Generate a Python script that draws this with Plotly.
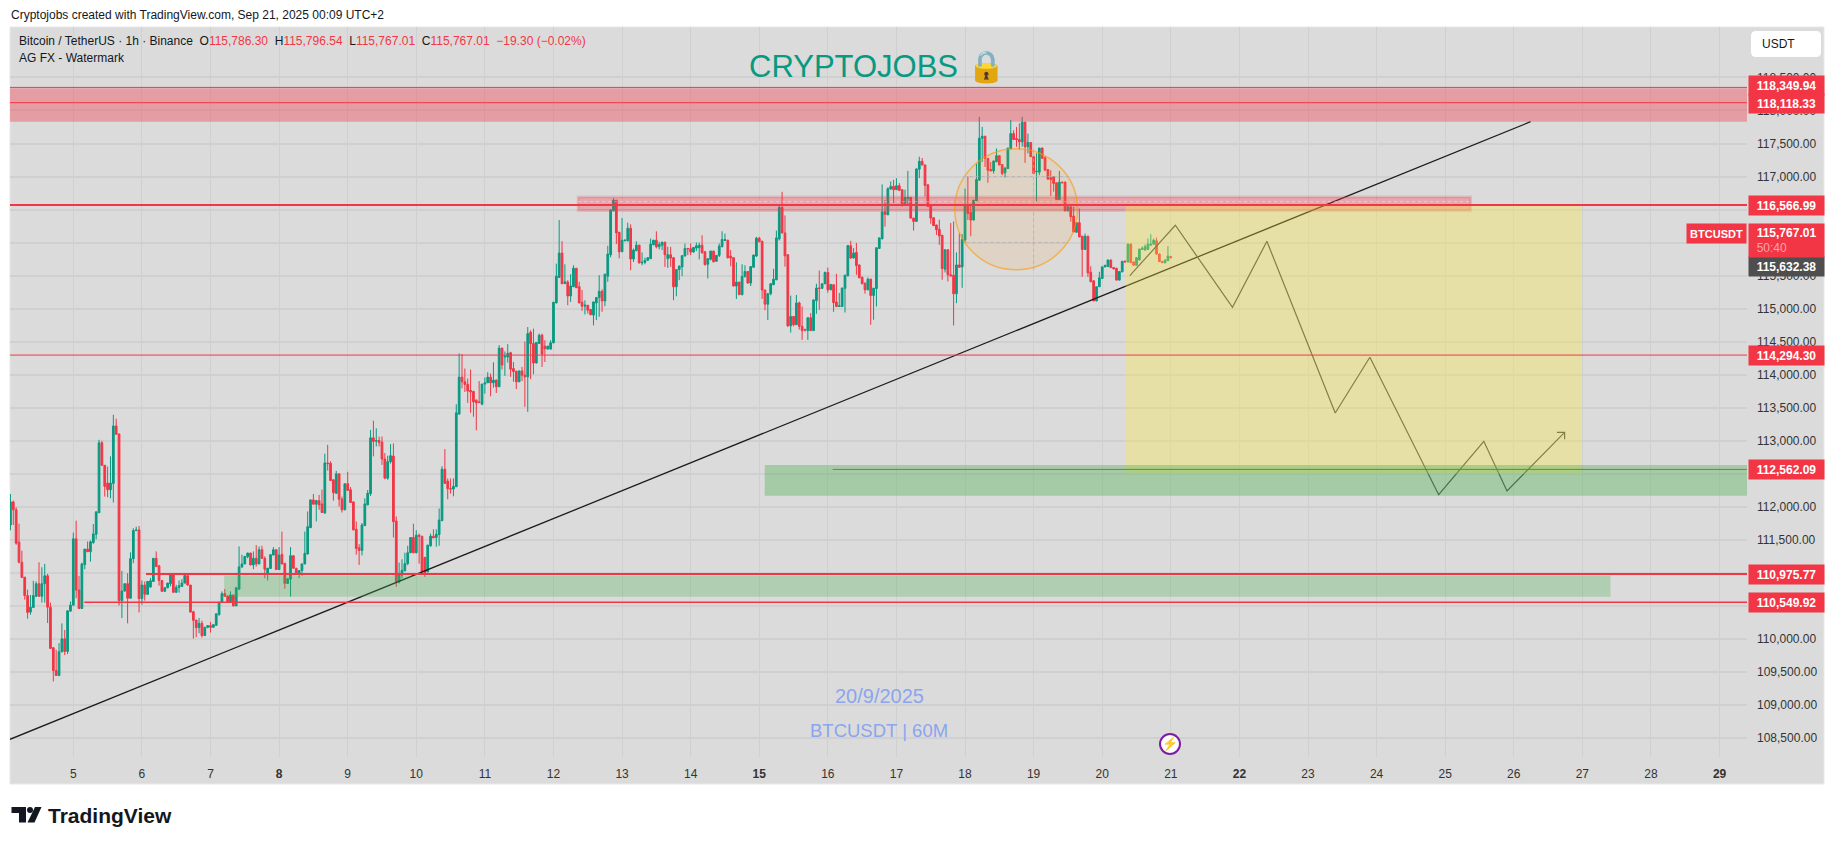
import plotly.graph_objects as go

# hourly BTCUSDT bars, oldest first, last one is Sep 21 00:00
opens = [
    111720,112070,111950,111460,111155,110930,110650,110400,110470,110640,
    110830,110640,110830,110950,110475,109860,109515,109440,109800,109995,
    109805,110415,110505,111510,110735,110455,111120,111355,111315,111455,
    111580,111905,112965,112625,112355,112255,112350,113220,113100,110575,
    110720,110830,110610,111210,111635,111645,110605,110810,110670,110780,
    110865,111215,111100,110880,110715,110770,110830,110965,110700,110775,
    110790,110840,110950,110810,110405,110280,110165,110230,110045,110170,
    110195,110170,110200,110360,110545,110680,110645,110555,110660,110495,
    110750,111085,111130,111240,111295,111115,111215,111130,111345,111215,
    110970,111060,111265,111345,111045,111275,111140,110835,110900,111255,
    111065,110990,111030,111130,111280,111680,112100,112035,112090,112040,
    111900,112660,112655,112405,112200,112495,112110,111950,112345,112255,
    112070,111655,111375,111335,111710,112025,112195,113040,112990,113000,
    112975,112720,112430,112680,112765,111780,110860,110960,111025,111135,
    111300,111530,111300,111565,111550,111230,111010,111405,111550,111530,
    111575,111785,112565,112385,112270,112265,112300,113400,113960,113890,
    113850,113760,113745,113610,113585,113550,113855,113875,113960,113875,
    113915,113815,114400,114265,114265,114330,114090,114050,113890,114055,
    113990,113965,114640,114470,114175,114470,114595,114430,114385,114385,
    114480,115085,115470,115840,115378,115400,115190,115330,115610,115330,
    115095,115035,115050,114985,114900,115085,115165,115260,115115,115490,
    115815,116480,116640,116155,115860,116025,116025,116215,115750,115875,
    115960,115690,115700,115730,115755,115965,116035,115935,115960,116005,
    115755,115815,115770,115330,115590,115630,115795,115910,115905,115855,
    115915,115920,115960,115860,115670,115745,115870,115715,115805,115935,
    116030,116035,115795,115770,115340,115400,115210,115480,115560,115385,
    115625,115795,116065,116020,115280,115065,115225,115360,115435,116055,
    116530,116145,115815,114738,114880,114755,115085,114730,114685,114665,
    114860,114665,115120,115310,115305,115375,115545,115283,115360,115100,
    115030,115030,115305,115495,115950,115765,115850,115660,115475,115385,
    115283,115445,115197,115303,115910,116055,116465,116420,116810,116850,
    116800,116860,116800,116560,116665,116685,116370,116320,117110,117230,
    117175,116875,116560,116375,116265,116200,116110,115595,115890,115510,
    115505,115223,115660,115630,116040,116575,116455,116340,116630,116945,
    117580,117610,117275,117105,117085,117222,117315,117180,117055,117120,
    117420,117650,117575,117560,117525,117822,117450,117515,117300,117071,
    117066,117430,117285,117105,116980,116995,116905,116650,116915,116915,
    116480,116540,116400,116155,116300,116095,115895,116095,115550,115420,
    115115,115330,115455,115630,115635,115735,115620,115610,115430,115555,
    115720,115705,115975,115705,115655,115735,115895,115885,115895,115960,
    115975,116025,115825,115710,115695,115725,115786.30,
]
highs = [
    112190,112090,111990,111740,111330,110930,110740,110660,110875,110865,
    111155,111080,111130,110980,110545,109870,109830,109930,110230,110130,
    110425,110560,111605,111785,110950,111150,111355,111470,111485,111735,
    111920,113010,112995,112625,112605,112760,113390,113330,113100,111025,
    110840,110990,111305,111670,111695,111705,110880,110865,110870,110915,
    111215,111320,111115,110885,110775,110845,110990,110970,110815,110880,
    110900,110990,110990,110810,110420,110280,110310,110270,110175,110200,
    110250,110210,110375,110555,110715,110750,110650,110715,110665,110770,
    111395,111270,111250,111300,111300,111320,111415,111395,111405,111245,
    111070,111275,111385,111350,111385,111620,111145,110910,111385,111260,
    111070,111035,111135,111620,111925,112105,112190,112100,112175,112255,
    112800,112935,112685,112410,112540,112500,112150,112350,112525,112295,
    112075,111775,111430,111750,112125,112250,113160,113300,113185,113060,
    113060,112810,112770,112944,112955,111850,111150,111200,111300,111405,
    111530,111740,111640,111590,111555,111235,111420,111590,111655,111655,
    111970,112610,112870,112425,112425,112425,113550,114320,114310,114090,
    113940,114075,113750,113625,113900,113860,113955,114035,114015,114185,
    113925,114445,114405,114350,114460,114345,114190,114055,114060,114115,
    114500,114720,114670,114695,114490,114620,114620,114520,114435,114520,
    115100,115680,116340,116020,115670,115430,115520,115655,115610,115405,
    115280,115125,115050,114990,115105,115175,115505,115290,115525,115950,
    116505,116670,116645,116160,116370,116045,116300,116275,115910,116020,
    115965,115850,115770,115775,116060,116040,116170,116010,116010,116010,
    115935,115935,115775,115595,115655,115805,115985,115915,115985,115930,
    116000,116000,116110,115865,115760,115875,115875,115810,115985,116170,
    116135,116040,115885,115775,115700,115405,115670,115655,115565,115640,
    115815,116085,116085,116025,115285,115230,115385,115600,116180,116580,
    116768,116410,115820,115195,114885,115205,115105,115030,114690,114865,
    114930,115135,115375,115575,115380,115560,115620,115370,115365,115525,
    115235,115315,115510,115960,116025,115915,115995,115665,115480,115390,
    115470,115450,115310,115925,116075,116880,116645,116835,116925,116950,
    116975,116900,116805,116800,117085,116690,116375,117120,117300,117280,
    117180,116880,116565,116380,116270,116345,116115,115895,115895,116295,
    116320,115850,116140,116127,116818,117000,116590,116645,117195,117905,
    117752,117615,117280,117220,117240,117425,117320,117185,117135,117435,
    117855,117700,117752,117805,117904,117830,117650,117520,117305,117350,
    117435,117440,117300,117110,117095,117000,116910,117085,116920,116920,
    116545,116545,116540,116305,116515,116100,116135,116100,115640,115425,
    115335,115555,115635,115660,115740,115740,115625,115615,115565,115720,
    115725,115985,115985,115710,115775,115905,115940,115970,116060,116125,
    116060,116075,115830,115725,115740,115945,115796.54,
]
lows = [
    111640,111720,111420,111140,110920,110590,110300,110360,110470,110630,
    110635,110545,110545,110235,109850,109350,109435,109430,109790,109750,
    109765,110410,110505,110610,110450,110450,111050,111310,111165,111435,
    111505,111905,112615,112150,112140,112125,112060,113090,110500,110310,
    110710,110230,110610,111140,111630,110395,110510,110575,110660,110770,
    110860,111085,110800,110710,110710,110760,110790,110695,110695,110695,
    110785,110835,110805,110395,110000,110020,110080,110015,110040,110155,
    110090,110165,110195,110350,110545,110635,110545,110550,110485,110490,
    110735,111070,111125,111215,111110,111050,111090,111125,111210,110915,
    110880,111055,111260,111040,111040,111125,110755,110830,110635,111060,
    110965,110915,110950,111125,111275,111675,112030,111775,111950,111905,
    111895,112545,112390,112090,112195,112000,111910,111945,112240,112055,
    111640,111270,111115,111260,111710,112020,112160,112760,112910,112910,
    112630,112415,112405,112650,111530,110785,110835,110910,111020,111110,
    111295,111290,111290,111135,110970,110935,111005,111390,111520,111390,
    111405,111780,112345,112110,112195,112155,112295,113395,113790,113735,
    113570,113420,113360,113155,113570,113535,113710,113870,113670,113800,
    113720,113810,114075,113980,114180,113965,113890,113780,113885,113900,
    113510,113435,113930,114005,114165,114465,114115,114190,114380,114380,
    114475,115080,115465,115370,115370,115050,115100,115325,115310,115080,
    114965,114910,114925,114900,114745,114825,114875,114950,115035,115405,
    115775,116475,115975,115760,115855,116020,116020,115580,115705,115870,
    115685,115655,115670,115725,115750,115960,115910,115895,115885,115630,
    115615,115630,115125,115185,115430,115490,115790,115810,115810,115850,
    115870,115745,115825,115650,115455,115730,115695,115710,115780,115930,
    116025,115755,115640,115335,115145,115205,115200,115475,115380,115340,
    115620,115780,116005,115145,114975,114825,115200,115355,115430,116030,
    116140,115635,114720,114635,114730,114750,114680,114525,114650,114525,
    114660,114660,114920,114980,115300,115370,115240,115280,114950,115025,
    115030,115025,114940,115490,115750,115760,115510,115460,115370,115225,
    115280,114753,114830,115030,115905,116050,116240,116415,116800,116595,
    116795,116785,116545,116555,116570,116365,116180,116315,116975,117170,
    116695,116545,116285,116250,116115,115965,115435,115545,115410,115485,
    114743,115080,115620,115313,116000,116340,116095,116335,116625,116940,
    117220,117145,116905,117080,117045,117220,117170,117020,116985,117115,
    117415,117555,117450,117410,117450,117207,117350,117295,117035,116616,
    117020,117270,117090,116955,116705,116770,116645,116645,116900,116475,
    116475,116315,116155,116150,116080,115480,115890,115480,115400,115110,
    115110,115325,115450,115625,115630,115615,115595,115425,115425,115550,
    115700,115700,115690,115650,115650,115730,115890,115880,115890,115955,
    115970,115820,115705,115690,115680,115720,115767.01,
]
closes = [
    112070,111950,111445,111155,110925,110650,110395,110475,110650,110830,
    110640,110830,110950,110475,109850,109515,109440,109800,109995,109805,
    110420,110505,111510,110735,110455,111130,111355,111315,111465,111585,
    111920,112965,112625,112305,112255,112355,113220,113095,110575,110720,
    110830,110610,111210,111635,111645,110605,110810,110670,110865,110875,
    111215,111090,110880,110715,110770,110840,110965,110700,110775,110800,
    110840,110955,110810,110400,110275,110165,110230,110045,110170,110195,
    110170,110210,110375,110550,110680,110640,110555,110660,110495,110770,
    111085,111130,111245,111295,111115,111215,111130,111345,111215,111050,
    111065,111270,111345,111045,111265,111130,110835,110905,111255,111065,
    110980,111030,111130,111290,111695,112100,112035,112090,112025,111910,
    112660,112650,112395,112210,112495,112110,111950,112345,112245,112060,
    111645,111365,111335,111720,112040,112200,113040,112985,113000,112970,
    112720,112430,112680,112770,111770,110860,110985,111035,111135,111300,
    111530,111300,111565,111550,111010,110995,111415,111550,111525,111580,
    111795,112565,112350,112270,112265,112305,113420,113960,113890,113850,
    113750,113735,113585,113570,113575,113855,113875,113960,113875,113915,
    113815,114400,114145,114275,114320,114080,114045,113890,114055,113990,
    113965,114620,114470,114175,114485,114595,114310,114390,114430,114480,
    115095,115490,115840,115375,115404,115190,115340,115610,115315,115085,
    115035,115050,114975,114905,115100,115165,115260,115115,115520,115825,
    116490,116640,116145,115860,116035,116035,116215,115750,115885,115960,
    115690,115700,115730,115770,115975,116035,115935,115970,116005,115815,
    115815,115765,115330,115590,115640,115800,115910,115905,115855,115925,
    115950,115960,115850,115665,115755,115870,115710,115805,115945,116045,
    116045,115770,115765,115340,115400,115210,115485,115560,115385,115635,
    115810,116065,116010,115280,115065,115225,115375,115445,116070,116530,
    116145,115798,114738,114880,114755,115085,114730,114665,114675,114860,
    114665,115130,115310,115305,115375,115545,115283,115365,115090,115030,
    115040,115310,115505,115955,115765,115840,115650,115465,115375,115283,
    115445,115197,115308,115920,116070,116465,116425,116815,116850,116800,
    116860,116790,116560,116680,116685,116370,116320,117115,117230,117175,
    116865,116545,116370,116255,116195,116100,115605,115890,115510,115495,
    115223,115660,115625,116045,116565,116440,116340,116640,116955,117580,
    117610,117275,117095,117085,117235,117315,117175,117045,117130,117430,
    117650,117560,117560,117525,117822,117450,117515,117300,117045,117081,
    117430,117275,117095,116960,116955,116895,116650,116915,116905,116480,
    116540,116390,116160,116300,116085,115895,116095,115540,115405,115115,
    115330,115465,115630,115655,115735,115620,115600,115430,115560,115715,
    115705,115975,115695,115655,115770,115900,115915,115935,115975,115975,
    116035,115825,115710,115695,115735,115795,115767.01,
]

day_ticks = list(range(5, 30))
week_days = [8, 15, 22, 29]
price_ticks = list(range(108500, 119000, 500))
# these labels sit fully under a price tag
hidden_price_ticks = [116500, 112500, 111000, 110500]

# horizontal levels: price, first day, line width
level_prices = [118349.94, 118118.33, 116566.99, 114294.30, 112562.09, 110975.77, 110549.92]
level_starts = [4.07, 4.07, 4.07, 4.07, 16.07, 6.06, 5.16]
level_widths = [1, 1, 2, 1, 1, 2, 1.5]
level_colors = ["#f23645", "#f23645", "#f23645", "#f23645", "#a5674f", "#f23645", "#f23645"]

trend_days = [4.077, 26.245]
trend_prices = [108473, 117830]

path_days = [20.402, 21.066, 21.899, 22.401, 23.397, 23.902, 24.905, 25.563, 25.901, 26.741]
path_prices = [115497, 116261, 115018, 116018, 113417, 114261, 112179, 112988, 112235, 113124]
head_days = [26.628, 26.741, 26.741]
head_prices = [113124, 113124, 113018]

# price tags on the right axis
tag_prices = [118349.94, 118118.33, 116566.99, 114294.30, 112562.09, 110975.77, 110549.92]
tag_shifts = [2, -1, 0, 0, 0, 0, 0]

W, H = 1835, 845
PX0, PX1, PY0, PY1 = 10, 1747, 27, 757
RED = "#f23645"
GREEN = "#089981"
FONT = "Liberation Sans"


def fx(px):
    return px / W


def fy(py):
    return 1 - py / H


bar_days = [21 - (len(closes) - 1 - i) / 24 for i in range(len(closes))]

fig = go.Figure()

fig.add_trace(go.Candlestick(
    x=bar_days, open=opens, high=highs, low=lows, close=closes,
    increasing=dict(line=dict(color=GREEN, width=1), fillcolor=GREEN),
    decreasing=dict(line=dict(color=RED, width=1), fillcolor=RED),
    whiskerwidth=0, hoverinfo="skip", showlegend=False,
))
fig.add_trace(go.Scatter(x=trend_days, y=trend_prices, mode="lines",
                         line=dict(color="#1c1c1c", width=1.3), hoverinfo="skip", showlegend=False))
fig.add_trace(go.Scatter(x=path_days, y=path_prices, mode="lines",
                         line=dict(color="#4a4a4a", width=1.2), hoverinfo="skip", showlegend=False))
fig.add_trace(go.Scatter(x=head_days, y=head_prices, mode="lines",
                         line=dict(color="#4a4a4a", width=1.2), hoverinfo="skip", showlegend=False))

shapes = [
    # grey pane behind everything
    dict(type="rect", xref="paper", yref="paper", x0=fx(10), x1=fx(1824), y0=fy(27), y1=fy(784),
         fillcolor="#dbdbdb", line=dict(color="#e8e8e8", width=1), layer="below"),
    # top resistance band
    dict(type="rect", x0=4, x1=30, y0=117830, y1=118336, fillcolor="rgba(242,54,69,0.38)", line_width=0),
    # band round 116.5k
    dict(type="rect", x0=12.36, x1=25.37, y0=116485, y1=116690, fillcolor="rgba(242,54,69,0.3)",
         line=dict(color="rgba(242,54,69,0.2)", width=3)),
    dict(type="line", x0=12.36, x1=25.37, y0=116618, y1=116618,
         line=dict(color="rgba(255,255,255,0.4)", width=1, dash="dot")),
    # orange circle with the grid showing through as dots
    dict(type="circle", x0=17.85, x1=19.64, y0=115587, y1=117420, fillcolor="rgba(255,152,0,0.1)",
         line=dict(color="rgba(255,152,0,0.6)", width=1.5)),
    dict(type="line", x0=17.98, x1=19.53, y0=117000, y1=117000,
         line=dict(color="rgba(175,175,190,0.8)", width=1, dash="dot")),
    dict(type="line", x0=18.02, x1=19.48, y0=116000, y1=116000,
         line=dict(color="rgba(175,175,190,0.8)", width=1, dash="dot")),
    dict(type="line", x0=19, x1=19, y0=115587, y1=117420,
         line=dict(color="rgba(175,175,190,0.8)", width=1, dash="dot")),
    # yellow target box
    dict(type="rect", x0=20.34, x1=26.99, y0=112493, y1=116566.99, fillcolor="rgba(255,235,59,0.32)", line_width=0),
    # green support zones
    dict(type="rect", x0=15.08, x1=30, y0=112164, y1=112629, fillcolor="rgba(76,175,80,0.38)", line_width=0),
    dict(type="rect", x0=7.2, x1=27.41, y0=110633, y1=110952, fillcolor="rgba(76,175,80,0.3)", line_width=0),
]
for price, start, width, color in zip(level_prices, level_starts, level_widths, level_colors):
    shapes.append(dict(type="line", x0=start, x1=30, y0=price, y1=price, line=dict(color=color, width=width)))

# USDT button with rounded corners
bx0, bx1, by0, by1, r = fx(1751), fx(1821), fy(31), fy(57), 5
rx, ry = r / W, r / H
shapes.append(dict(
    type="path", xref="paper", yref="paper", fillcolor="white", line_width=0,
    path=f"M {bx0+rx} {by0} L {bx1-rx} {by0} Q {bx1} {by0} {bx1} {by0-ry} L {bx1} {by1+ry} "
         f"Q {bx1} {by1} {bx1-rx} {by1} L {bx0+rx} {by1} Q {bx0} {by1} {bx0} {by1+ry} "
         f"L {bx0} {by0-ry} Q {bx0} {by0} {bx0+rx} {by0} Z",
))

# TradingView logo
shapes.append(dict(type="path", xref="paper", yref="paper", fillcolor="#131722", line_width=0,
                   path=f"M {fx(11.5)} {fy(807)} L {fx(26)} {fy(807)} L {fx(26)} {fy(822.5)} L {fx(19)} {fy(822.5)} "
                        f"L {fx(19)} {fy(813)} L {fx(11.5)} {fy(813)} Z"))
shapes.append(dict(type="circle", xref="paper", yref="paper", fillcolor="#131722", line_width=0,
                   x0=fx(27), x1=fx(33), y0=fy(813), y1=fy(807)))
shapes.append(dict(type="path", xref="paper", yref="paper", fillcolor="#131722", line_width=0,
                   path=f"M {fx(35)} {fy(807)} L {fx(41.5)} {fy(807)} L {fx(34.5)} {fy(822.5)} L {fx(27.5)} {fy(822.5)} Z"))

# lightning badge
shapes.append(dict(type="circle", xref="paper", yref="paper", fillcolor="white",
                   line=dict(color="#7b1fa2", width=2), x0=fx(1160), x1=fx(1180), y0=fy(754), y1=fy(734)))

annotations = []


def add_text(px, py, text, size=12, color="#131722", anchor="left", **kw):
    annotations.append(dict(xref="paper", yref="paper", x=fx(px), y=fy(py), text=text, showarrow=False,
                            xanchor=anchor, yanchor="middle",
                            font=dict(family=kw.pop("family", FONT), size=size, color=color), **kw))


add_text(9, 15, "Cryptojobs created with TradingView.com, Sep 21, 2025 00:09 UTC+2", size=12)
red_span = '<span style="color:#f23645">%s</span>'
nb = "\u00a0"
legend = ("Bitcoin / TetherUS · 1h · Binance" + nb * 2 + "O" + red_span % "115,786.30" + nb * 2 + "H" + red_span % "115,796.54"
          + nb * 2 + "L" + red_span % "115,767.01" + nb * 2 + "C" + red_span % "115,767.01" + nb * 2
          + red_span % "−19.30 (−0.02%)")
add_text(16.5, 41.5, legend, size=12)
add_text(16.5, 58.5, "AG FX - Watermark", size=12)
add_text(877, 67, "CRYPTOJOBS 🔒", size=31, color=GREEN, anchor="center")
add_text(879, 696, "20/9/2025", size=20, color="#8ba5ee", anchor="center")
add_text(879, 730, "BTCUSDT | 60M", size=18.5, color="#8ba5ee", anchor="center")
add_text(1760, 44, "USDT", size=12)
add_text(1170, 744, "⚡", size=13, color="#9c27b0", anchor="center")
add_text(46, 815, "<b>TradingView</b>", size=21)

for price, shift in zip(tag_prices, tag_shifts):
    annotations.append(dict(xref="paper", yref="y", x=fx(1748), y=price, yshift=shift, xanchor="left",
                            text="<b>%s</b>" % format(price, ",.2f"), showarrow=False, width=73, height=17,
                            bgcolor=RED, align="center", font=dict(family=FONT, size=12, color="white")))
annotations.append(dict(xref="paper", yref="y", x=fx(1748), y=115632.38, xanchor="left",
                        text="<b>115,632.38</b>", showarrow=False, width=73, height=17, bgcolor="#4e4e4e",
                        align="center", font=dict(family=FONT, size=12, color="white")))
annotations.append(dict(xref="paper", yref="y", x=fx(1748), y=115767.01, yanchor="bottom", xanchor="left",
                        text=nb * 2 + '<b>115,767.01</b><br>' + nb * 2 + '<span style="color:#f5a5ab">50:40</span>',
                        showarrow=False, width=73, height=31, bgcolor=RED, align="left",
                        font=dict(family=FONT, size=12, color="white")))
annotations.append(dict(xref="paper", yref="y", x=fx(1747), y=115767.01, yanchor="bottom", xanchor="right",
                        yshift=14, text="<b>BTCUSDT</b>", showarrow=False, width=57, height=17, bgcolor=RED,
                        align="center", font=dict(family=FONT, size=11, color="white")))

fig.update_layout(
    width=W, height=H, autosize=False,
    margin=dict(l=0, r=0, t=0, b=0),
    paper_bgcolor="white", plot_bgcolor="rgba(0,0,0,0)",
    showlegend=False, shapes=shapes, annotations=annotations,
    boxgap=0.4, boxgroupgap=0,
    xaxis=dict(
        domain=[fx(PX0), fx(PX1)], range=[4.077, 29.4], rangeslider=dict(visible=False),
        tickmode="array", tickvals=day_ticks,
        ticktext=["<b>%d</b>" % d if d in week_days else str(d) for d in day_ticks],
        showgrid=True, gridcolor="#d0d0d0", gridwidth=1, zeroline=False, showline=False, ticks="",
        ticklabelstandoff=8, tickfont=dict(family=FONT, size=12, color="#333333"),
    ),
    yaxis=dict(
        domain=[fy(PY1), fy(PY0)], range=[108205, 119265], side="right",
        tickmode="array", tickvals=price_ticks,
        ticktext=["" if p in hidden_price_ticks else format(p, ",.2f") for p in price_ticks],
        showgrid=True, gridcolor="#d0d0d0", gridwidth=1.5, zeroline=False, showline=False, ticks="",
        ticklabelstandoff=9, tickfont=dict(family=FONT, size=12, color="#333333"),
    ),
)

fig.write_html("out.html", config=dict(displayModeBar=False),
               post_script="document.body.style.margin='0';document.body.style.overflow='hidden';")
